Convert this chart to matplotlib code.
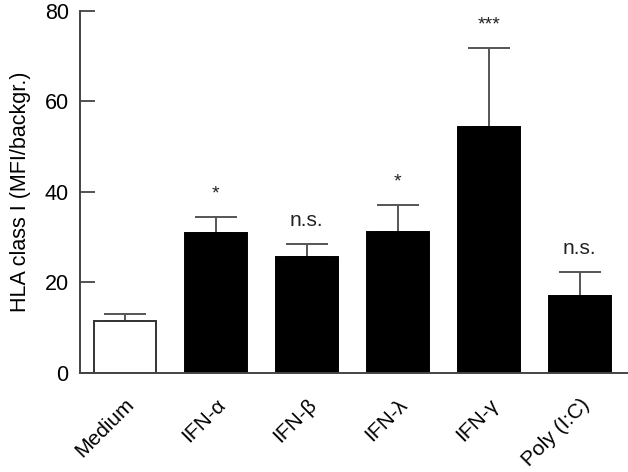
import matplotlib
matplotlib.use("Agg")
import matplotlib.pyplot as plt
import numpy as np

plt.rcParams['font.family'] = ['Liberation Sans', 'DejaVu Sans']

categories = ["Medium", "IFN-\u03b1", "IFN-\u03b2", "IFN-\u03bb", "IFN-\u03b3", "Poly (I:C)"]
means = [11.5, 31.0, 25.5, 31.1, 54.3, 17.0]
errors = [1.5, 3.5, 3.0, 6.1, 17.5, 5.3]
signif = ["", "*", "n.s.", "*", "***", "n.s."]
yticks = [0, 20, 40, 60, 80]

fig = plt.figure(figsize=(6.28, 4.72), dpi=100)
ax = fig.add_axes([0.127, 0.21, 0.873, 0.767])

x = np.arange(len(categories))
colors = ["white"] + ["black"] * (len(categories) - 1)
edges = ["#333333"] + ["black"] * (len(categories) - 1)
ax.bar(x, means, width=0.68, color=colors, edgecolor=edges, linewidth=1.4, zorder=2)
ax.errorbar(x, means, yerr=[np.zeros(len(means)), errors], fmt="none",
            ecolor="#555555", elinewidth=1.4, capsize=15, capthick=1.4, zorder=1)

for xi, m, e, s in zip(x, means, errors, signif):
    if not s:
        continue
    if s.startswith("*"):
        ax.text(xi, m + e + 3.1, s, ha="center", va="bottom", fontsize=14, color="#222222")
    else:
        ax.text(xi, m + e + 3.0, s, ha="center", va="bottom", fontsize=15, color="#222222")

ax.set_xlim(-0.495, 5.53)
ax.set_ylim(0, 80)
ax.set_yticks(yticks)
ax.set_xticks(x)
ax.set_xticklabels(categories, rotation=45, ha="right", rotation_mode="anchor", fontsize=15)
ax.tick_params(axis="x", length=0, pad=16)
ax.tick_params(axis="y", direction="in", length=11, width=1.3, labelsize=15.5, pad=8, color="#444444")
for sp in ["top", "right"]:
    ax.spines[sp].set_visible(False)
for sp in ["left", "bottom"]:
    ax.spines[sp].set_linewidth(1.4)
    ax.spines[sp].set_color("#444444")
ax.set_ylabel("HLA class I (MFI/backgr.)", fontsize=15.5, labelpad=10)

fig.savefig("out.png", dpi=100)
